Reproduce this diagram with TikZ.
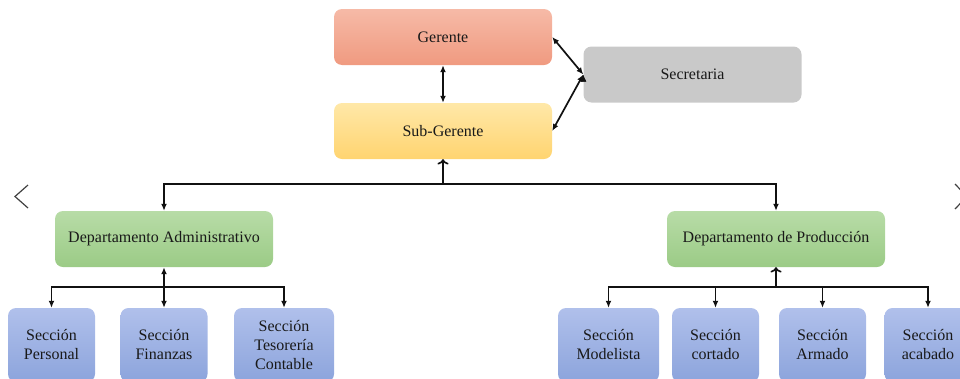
\documentclass[tikz,border=0pt]{standalone}
\usepackage{fontspec}
\setmainfont{Liberation Serif}
\usepackage{xcolor}
\usetikzlibrary{arrows.meta}

\definecolor{gerA}{HTML}{F6BAA7}
\definecolor{gerB}{HTML}{F09A80}
\definecolor{subA}{HTML}{FFE8A8}
\definecolor{subB}{HTML}{FFD470}
\definecolor{secG}{HTML}{C9C9C9}
\definecolor{depA}{HTML}{B8DCA7}
\definecolor{depB}{HTML}{9BCB86}
\definecolor{secA}{HTML}{B0C0EB}
\definecolor{secB}{HTML}{8CA4DC}
\definecolor{linea}{HTML}{111111}

\begin{document}
\begin{tikzpicture}[x=1pt,y=1pt,font=\fontsize{16}{19}\selectfont,
    caja/.style={rounded corners=8pt,minimum width=218pt,minimum height=56pt,align=center,inner sep=2pt,text=black!90},
    seccion/.style={caja,top color=secA,bottom color=secB,minimum width=87pt,minimum height=74pt},
    flecha/.style={line width=1.7pt,draw=linea,arrows={-Latex[length=7pt,width=6pt]}},
    doble/.style={flecha,arrows={Latex[length=7pt,width=6pt]-Latex[length=7pt,width=6pt]}}]
    \useasboundingbox (0,0) rectangle (960,-378);

    % jefatura
    \node[caja,top color=gerA,bottom color=gerB,name=ger] at (443,-37) {Gerente};
    \node[caja,top color=subA,bottom color=subB,name=sub, below of=ger, node distance=94pt] {Sub-Gerente};
    \node[caja,fill=secG,name=sec] at (692.5,-74.5) {Secretaria};

    % departamentos
    \node[caja,top color=depA,bottom color=depB,name=adm] at (164,-239) {Departamento Administrativo};
    \node[caja,top color=depA,bottom color=depB,name=pro, right of=adm, node distance=612pt] {Departamento de Producción};

    % secciones
    \node[seccion,name=fin, below of=adm, node distance=106pt] {Sección\\Finanzas};
    \node[seccion,name=per, left of=fin, node distance=112.5pt] {Sección\\Personal};
    \node[seccion,name=tes, right of=fin, node distance=120pt, minimum width=100pt] {Sección\\Tesorería\\Contable};

    \node[seccion,name=cor] at (715.5,-345) {Sección\\cortado};
    \node[seccion,name=mod, left of=cor, node distance=107pt, minimum width=101pt] {Sección\\Modelista};
    \node[seccion,name=arm, right of=cor, node distance=107pt] {Sección\\Armado};
    \node[seccion,name=aca, right of=arm, node distance=105.5pt] {Sección\\acabado};

    \coordinate (busT) at (0,-184);
    \coordinate (busA) at (0,-287);
    \coordinate (busP) at (0,-287);

    \path[doble] (ger) edge (sub)
                 (sec.west) edge (ger.east)
                 (sec.west) edge (sub.east);

    \draw[flecha,<-] (sub.south) -- (sub.south |- busT);
    \draw[flecha] (sub.south |- busT) -| (adm.north);
    \draw[flecha] (sub.south |- busT) -| (pro.north);

    \draw[doble] (adm.south) -- (fin.north);
    \draw[flecha] (adm.south |- busA) -| (per.north);
    \draw[flecha] (adm.south |- busA) -| (tes.north);

    \draw[flecha,<-] (pro.south) -- (pro.south |- busP);
    \draw[flecha] (pro.south |- busP) -| (mod.north);
    \draw[flecha] (pro.south |- busP) -| (cor.north);
    \draw[flecha] (pro.south |- busP) -| (arm.north);
    \draw[flecha] (pro.south |- busP) -| (aca.north);

    % flechas del carrusel
    \draw[line width=1.2pt,draw=black!75] (28,-185) -- (15,-196.5) -- (28,-208);
    \draw[line width=1.2pt,draw=black!75] (955,-184) -- (967,-196.5) -- (955,-209);
\end{tikzpicture}
\end{document}
